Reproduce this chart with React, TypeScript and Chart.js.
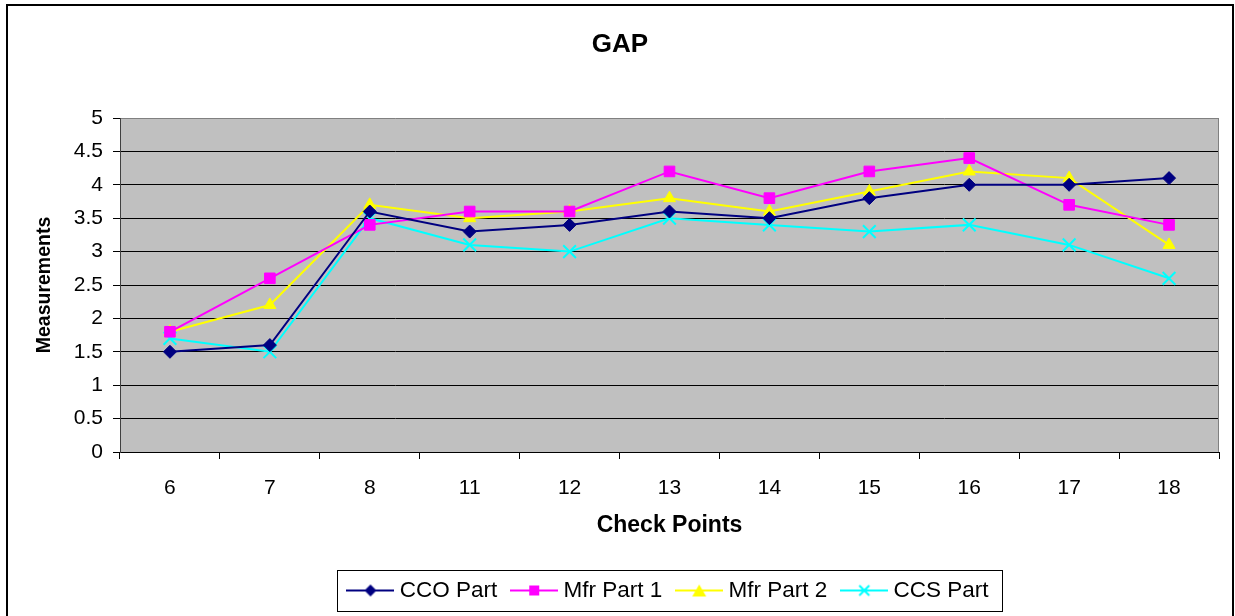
import React, { useEffect, useRef } from 'react';
import { Chart, registerables } from 'chart.js';

Chart.register(...registerables);

const categories = ['6', '7', '8', '11', '12', '13', '14', '15', '16', '17', '18'];
const ccoPart = [1.5, 1.6, 3.6, 3.3, 3.4, 3.6, 3.5, 3.8, 4.0, 4.0, 4.1];
const mfrPart1 = [1.8, 2.6, 3.4, 3.6, 3.6, 4.2, 3.8, 4.2, 4.4, 3.7, 3.4];
const mfrPart2 = [1.8, 2.2, 3.7, 3.5, 3.6, 3.8, 3.6, 3.9, 4.2, 4.1, 3.1];
const ccsPart = [1.7, 1.5, 3.5, 3.1, 3.0, 3.5, 3.4, 3.3, 3.4, 3.1, 2.6];
const seriesNames = ['CCO Part', 'Mfr Part 1', 'Mfr Part 2', 'CCS Part'];
const chartTitle = 'GAP';
const xAxisTitle = 'Check Points';
const yAxisTitle = 'Measurements';
const yMin = 0;
const yMax = 5;
const yStep = 0.5;

const FONT = '"Liberation Sans", Arial, Helvetica, sans-serif';

function makeLegendIcon(color: string, shape: string): HTMLCanvasElement {
  const c = document.createElement('canvas');
  c.width = 48;
  c.height = 22;
  const ctx = c.getContext('2d')!;
  ctx.strokeStyle = color;
  ctx.fillStyle = color;
  ctx.lineWidth = 2;
  ctx.beginPath();
  ctx.moveTo(0, 11);
  ctx.lineTo(48, 11);
  ctx.stroke();
  const cx = 24;
  const cy = 11;
  if (shape === 'diamond') {
    ctx.beginPath();
    ctx.moveTo(cx, cy - 6);
    ctx.lineTo(cx + 6, cy);
    ctx.lineTo(cx, cy + 6);
    ctx.lineTo(cx - 6, cy);
    ctx.closePath();
    ctx.fill();
  } else if (shape === 'square') {
    ctx.fillRect(cx - 5, cy - 5, 10, 10);
  } else if (shape === 'triangle') {
    ctx.beginPath();
    ctx.moveTo(cx, cy - 6);
    ctx.lineTo(cx + 7, cy + 6);
    ctx.lineTo(cx - 7, cy + 6);
    ctx.closePath();
    ctx.fill();
  } else {
    ctx.beginPath();
    ctx.moveTo(cx - 5, cy - 5);
    ctx.lineTo(cx + 5, cy + 5);
    ctx.moveTo(cx + 5, cy - 5);
    ctx.lineTo(cx - 5, cy + 5);
    ctx.stroke();
  }
  return c;
}

export default function App() {
  const ref = useRef<HTMLCanvasElement | null>(null);

  useEffect(() => {
    if (!ref.current) return;
    const colors = ['#000080', '#FF00FF', '#FFFF00', '#00FFFF'];
    const styles = ['rectRot', 'rect', 'triangle', 'crossRot'];
    const radii = [6.5, 7.5, 7, 9];
    const shapes = ['diamond', 'square', 'triangle', 'cross'];
    const values = [ccoPart, mfrPart1, mfrPart2, ccsPart];
    const icons = shapes.map((s, i) => makeLegendIcon(colors[i], s));

    const bgPlugin = {
      id: 'plotBg',
      beforeDraw(chart: any) {
        const { ctx, chartArea: a } = chart;
        ctx.save();
        ctx.fillStyle = '#FFFFFF';
        ctx.fillRect(0, 0, chart.width, chart.height);
        ctx.fillStyle = '#C0C0C0';
        ctx.fillRect(a.left, a.top, a.right - a.left, a.bottom - a.top);
        ctx.restore();
      },
      afterLayout(chart: any) {
        const lg = chart.legend;
        if (!lg) return;
        const a = chart.chartArea;
        const target = (a.left + a.right) / 2 + 1;
        const cur = (lg.left + lg.right) / 2;
        const d = target - cur;
        lg.left += d;
        lg.right += d;
      },
      afterDraw(chart: any) {
        const { ctx, chartArea: a } = chart;
        ctx.save();
        ctx.strokeStyle = '#808080';
        ctx.lineWidth = 1;
        ctx.beginPath();
        ctx.moveTo(Math.round(a.right) - 0.5, a.top);
        ctx.lineTo(Math.round(a.right) - 0.5, a.bottom);
        ctx.stroke();
        const lg = chart.legend;
        if (lg && lg.legendHitBoxes && lg.legendHitBoxes.length) {
          const hb = lg.legendHitBoxes;
          const first = hb[0];
          const last = hb[hb.length - 1];
          const left = first.left - 15;
          const right = last.left + last.width + 14;
          const cy = first.top + first.height / 2;
          ctx.strokeStyle = '#000000';
          ctx.lineWidth = 1;
          ctx.strokeRect(Math.round(left) + 0.5, Math.round(cy - 20.5) + 0.5, Math.round(right - left), 41);
        }
        ctx.strokeStyle = '#000000';
        ctx.lineWidth = 2;
        ctx.strokeRect(7, 5, 1226, 700);
        ctx.restore();
      },
    };

    const chart = new Chart(ref.current, {
      type: 'line',
      data: {
        labels: categories,
        datasets: values.map((v, i) => ({
          label: seriesNames[i],
          data: v,
          borderColor: colors[i],
          backgroundColor: colors[i],
          borderWidth: 2,
          pointStyle: styles[i] as any,
          pointRadius: radii[i],
          pointHoverRadius: radii[i],
          pointBackgroundColor: colors[i],
          pointBorderColor: colors[i],
          pointBorderWidth: i === 3 ? 2 : 1,
          tension: 0,
          fill: false,
        })),
      },
      options: {
        responsive: false,
        animation: false,
        events: [],
        layout: { padding: { left: 21, right: 16, top: 0, bottom: 4.25 } },
        plugins: {
          title: {
            display: true,
            text: chartTitle,
            color: '#000',
            font: { family: FONT, size: 26, weight: 'bold', lineHeight: 1.2 },
            padding: { top: 29.4, bottom: 57.4 },
          },
          legend: {
            display: true,
            position: 'bottom',
            labels: {
              usePointStyle: true,
              pointStyleWidth: 36,
              padding: 19,
              color: '#000',
              font: { family: FONT, size: 22.5 },
              generateLabels(ch: any) {
                const items = Chart.defaults.plugins.legend.labels.generateLabels(ch);
                return items.map((it: any, i: number) => ({ ...it, pointStyle: icons[i], fontColor: '#000' }));
              },
            },
          },
          tooltip: { enabled: false },
        },
        scales: {
          x: {
            type: 'category',
            offset: true,
            grid: {
              display: true,
              offset: true,
              drawOnChartArea: false,
              drawTicks: true,
              tickLength: 7,
              color: '#000',
              lineWidth: 1,
            },
            border: { display: true, color: '#000', width: 1 },
            ticks: {
              color: '#000',
              font: { family: FONT, size: 21, lineHeight: 1.2 },
              padding: 16.4,
              maxRotation: 0,
              autoSkip: false,
            },
            title: {
              display: true,
              text: xAxisTitle,
              color: '#000',
              font: { family: FONT, size: 23, weight: 'bold', lineHeight: 1.2 },
              padding: { top: 0, bottom: 20.45 },
            },
            afterFit(scale: any) {
              scale.height = 108.25;
            },
          },
          y: {
            min: yMin,
            max: yMax,
            grid: {
              color: (c: any) => (c.tick && c.tick.value === yMax ? '#808080' : '#000'),
              tickColor: '#000',
              lineWidth: 1,
              tickLength: 7,
              drawTicks: true,
            },
            border: { display: true, color: '#404040', width: 1 },
            ticks: {
              stepSize: yStep,
              color: '#000',
              font: { family: FONT, size: 21, lineHeight: 1.2 },
              padding: 10,
              callback: (v: any) => String(v),
            },
            title: {
              display: true,
              text: yAxisTitle,
              color: '#000',
              font: { family: FONT, size: 19.5, weight: 'bold', lineHeight: 1.2 },
              padding: { top: 12.3, bottom: 0 },
            },
            afterFit(scale: any) {
              scale.width = 99;
            },
          },
        },
      } as any,
      plugins: [bgPlugin],
    });

    return () => chart.destroy();
  }, []);

  return (
    <div style={{ position: 'absolute', left: 0, top: 0, width: 1235, height: 616, background: '#fff' }}>
      <canvas ref={ref} width={1235} height={616} style={{ display: 'block', width: 1235, height: 616 }} />
    </div>
  );
}
